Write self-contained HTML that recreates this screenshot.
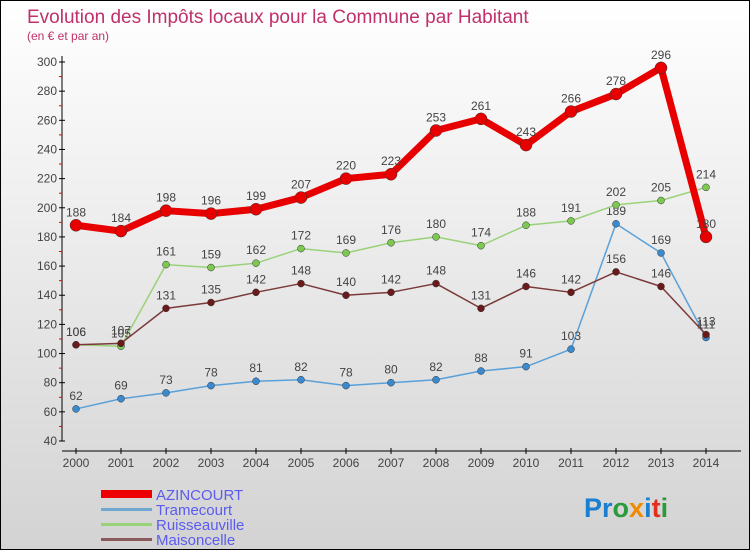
<!DOCTYPE html>
<html><head><meta charset="utf-8"><style>
body{margin:0}
#wrap{position:relative;width:748px;height:548px;border:1px solid #000;background:linear-gradient(#ffffff,#d3d3d3);overflow:hidden;font-family:"Liberation Sans",sans-serif}
svg text{font-family:"Liberation Sans",sans-serif}
</style></head><body>
<div id="wrap">
<svg id="chart" width="748" height="548">
<text x="26" y="22" font-size="19" fill="#c0306a">Evolution des Impôts locaux pour la Commune par Habitant</text>
<text x="26" y="39" font-size="12" fill="#c0306a">(en € et par an)</text>
<g id="axes"></g><g id="series"></g>
<g>
<rect x="100" y="489" width="51" height="8" fill="#e00"/>
<text x="155" y="499" font-size="15" fill="#5b5bf0">AZINCOURT</text>
<rect x="100" y="507" width="51" height="3" fill="#6fa8d0"/>
<text x="155" y="514" font-size="15" fill="#5b5bf0">Tramecourt</text>
<rect x="100" y="522" width="51" height="3" fill="#9ad27a"/>
<text x="155" y="529" font-size="15" fill="#5b5bf0">Ruisseauville</text>
<rect x="100" y="537" width="51" height="3" fill="#8a5a5a"/>
<text x="155" y="544" font-size="15" fill="#5b5bf0">Maisoncelle</text>
</g>
<text x="583" y="516" font-size="27" font-weight="bold"><tspan fill="#1a7fd0">Pr</tspan><tspan fill="#2a9a3a">o</tspan><tspan fill="#f08a00">x</tspan><tspan fill="#1a7fd0">i</tspan><tspan fill="#e03020">t</tspan><tspan fill="#2a9a3a">i</tspan></text>
</svg></div>
<script>
const years=[2000,2001,2002,2003,2004,2005,2006,2007,2008,2009,2010,2011,2012,2013,2014];
const yTicks=[40,60,80,100,120,140,160,180,200,220,240,260,280,300];
const azincourt=[188,184,198,196,199,207,220,223,253,261,243,266,278,296,180];
const tramecourt=[62,69,73,78,81,82,78,80,82,88,91,103,189,169,111];
const ruisseauville=[106,105,161,159,162,172,169,176,180,174,188,191,202,205,214];
const maisoncelle=[106,107,131,135,142,148,140,142,148,131,146,142,156,146,113];
const NS="http://www.w3.org/2000/svg";
function X(i){return 75+i*45;}
function Y(v){return 440-(v-40)*(379/260);}
function mk(tag,at,parent){const e=document.createElementNS(NS,tag);for(const k in at)e.setAttribute(k,at[k]);parent.appendChild(e);return e;}
const ax=document.getElementById('axes');
let yl=mk('line',{x1:61,y1:55,x2:61,y2:440,stroke:'#000','stroke-width':1},ax);


let xl=mk('line',{x1:61,y1:450,x2:740,y2:450,stroke:'#000','stroke-width':1},ax);


yTicks.forEach((t,i)=>{
  mk('line',{x1:58,y1:Y(t),x2:64,y2:Y(t),stroke:'#000'},ax);
  if(i<yTicks.length-1)mk('line',{x1:58,y1:Y(t+10),x2:61,y2:Y(t+10),stroke:'#e00'},ax);
  const tx=mk('text',{x:56,y:Y(t)+4,'font-size':12,'text-anchor':'end',fill:'#444'},ax);tx.textContent=t;
  
  
});
years.forEach((yr,i)=>{
  mk('line',{x1:X(i),y1:447,x2:X(i),y2:453,stroke:'#000'},ax);
  const tx=mk('text',{x:X(i),y:466,'font-size':12,'text-anchor':'middle',fill:'#444'},ax);tx.textContent=yr;
  
  
});
const sg=document.getElementById('series');
function draw(name,data,color,w,r,dot){
  const g=mk('g',{},sg);
  
  
  const pl=mk('polyline',{points:data.map((v,i)=>X(i)+','+Y(v)).join(' '),fill:'none',stroke:color,'stroke-width':w,'stroke-linejoin':'round'},g);
  
  
  data.forEach((v,i)=>{
    const c=mk('circle',{cx:X(i),cy:Y(v),r:r,fill:dot,stroke:'#333','stroke-width':0.5},g);
    
    
    const t=mk('text',{x:X(i),y:Y(v)-9,'font-size':12,'text-anchor':'middle',fill:'#444'},g);t.textContent=v;
    
    
  });
}
draw('tramecourt',tramecourt,'#5aa0d8',1.5,3.5,'#3a8ad0');
draw('ruisseauville',ruisseauville,'#9ad27a',1.5,3.5,'#7cc850');
draw('maisoncelle',maisoncelle,'#7a3a3a',1.5,3.5,'#6a1a1a');
draw('azincourt',azincourt,'#e80000',7,6,'#e80000');
</script>
</body></html>
